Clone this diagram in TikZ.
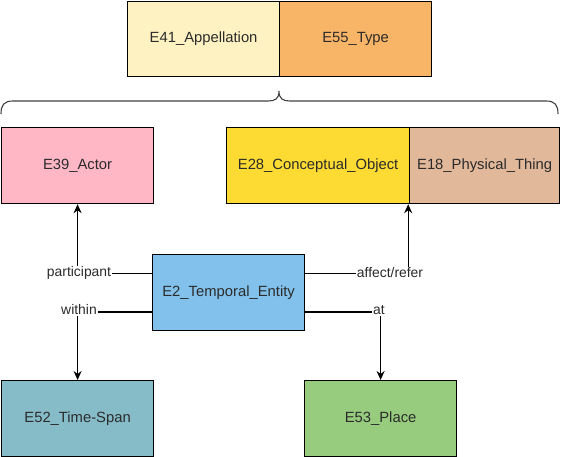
\documentclass[tikz,border=0pt]{standalone}
\usepackage{fontspec}
\setmainfont{Liberation Sans}
\usetikzlibrary{arrows.meta,calc}
\definecolor{cAppel}{HTML}{FFF2C2}
\definecolor{cType}{HTML}{F9B567}
\definecolor{cActor}{HTML}{FFB7C5}
\definecolor{cConc}{HTML}{FEDB32}
\definecolor{cPhys}{HTML}{E2B89B}
\definecolor{cTemp}{HTML}{82C1EB}
\definecolor{cSpan}{HTML}{86BCC8}
\definecolor{cPlace}{HTML}{97CC7E}
\definecolor{txt}{HTML}{2B2B2B}
\tikzset{
  ent/.style={draw=black, line width=1.2pt, minimum height=76pt, inner sep=0pt,
    text=txt, font=\fontsize{14.8}{17}\selectfont, anchor=north west},
  conn/.style={line width=1.2pt, draw=black},
  arr/.style={conn, -{Stealth[length=9pt,width=8pt]}},
  lbl/.style={fill=white, inner sep=1pt, text=txt, font=\fontsize{13.9}{16}\selectfont}
}
\begin{document}
\begin{tikzpicture}[x=1pt,y=-1pt]
\useasboundingbox (0,0) rectangle (562,457);
% top group
\node[ent, fill=cAppel, minimum width=152pt, minimum height=75pt] (e41) at (127,1) {E41\_Appellation};
\node[ent, fill=cType, minimum width=152pt, minimum height=75pt] (e55) at (279,1) {E55\_Type};
% brace
\draw[conn, line width=1.1pt, draw=black!75]
  (1,114) .. controls (1,105) and (4,101) .. (13,101) -- (268,101)
  .. controls (275,101) and (279,99) .. (279,91)
  .. controls (279,99) and (283,101) .. (290,101) -- (546,101)
  .. controls (555,101) and (558,105) .. (558,114);
% middle row
\node[ent, fill=cActor, minimum width=152pt] (e39) at (1,127) {E39\_Actor};
\node[ent, fill=cConc, minimum width=183pt] (e28) at (226,127) {E28\_Conceptual\_Object};
\node[ent, fill=cPhys, minimum width=150pt] (e18) at (409,127) {E18\_Physical\_Thing};
% center
\node[ent, fill=cTemp, minimum width=152pt] (e2) at (152,254) {E2\_Temporal\_Entity};
% bottom
\node[ent, fill=cSpan, minimum width=152pt] (e52) at (1,380) {E52\_Time-Span};
\node[ent, fill=cPlace, minimum width=152pt] (e53) at (304,380) {E53\_Place};
% anchor points on E2
\coordinate (wA) at ($(e2.north west)!0.25!(e2.south west)$);
\coordinate (wB) at ($(e2.north west)!0.75!(e2.south west)$);
\coordinate (eA) at ($(e2.north east)!0.25!(e2.south east)$);
\coordinate (eB) at ($(e2.north east)!0.75!(e2.south east)$);
\coordinate (tConc) at ($(e28.south east)+(-2,0)$);
% connectors
\draw[arr] (wA) -| (e39.south);
\draw[arr] (wB) -| (e52.north);
\draw[arr] (eA) -| (tConc);
\draw[arr] (eB) -| (e53.north);
% labels
\node[lbl] (lp) at (79,273) {participant};
\node[lbl] (lw) at (79,310) {within};
\node[lbl] (la) at (390,273) {affect/refer};
\node[lbl] (lt) at (379,310) {at};
\end{tikzpicture}
\end{document}
